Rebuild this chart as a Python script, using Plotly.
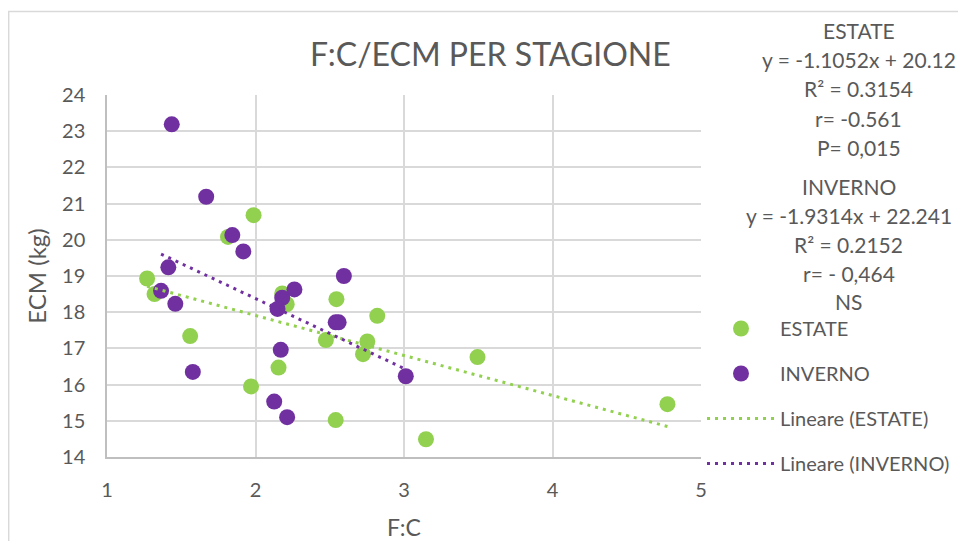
import plotly.graph_objects as go

# ---- data ----
estate_x = [1.27, 1.32, 1.56, 1.815, 1.987, 1.97, 2.155, 2.18, 2.21, 2.545, 2.82, 2.474, 2.753, 2.724, 2.54, 4.774, 3.148, 3.495]
estate_y = [18.93, 18.50, 17.34, 20.08, 20.68, 15.95, 16.47, 18.52, 18.22, 18.36, 17.90, 17.23, 17.19, 16.84, 15.02, 15.46, 14.49, 16.76]

inverno_x = [1.436, 1.668, 1.844, 1.918, 1.413, 1.364, 1.46, 1.578, 2.262, 2.18, 2.148, 2.17, 2.126, 2.213, 2.595, 2.54, 2.56, 3.012]
inverno_y = [23.19, 21.19, 20.13, 19.68, 19.24, 18.59, 18.23, 16.35, 18.63, 18.40, 18.09, 16.96, 15.53, 15.10, 19.00, 17.72, 17.72, 16.23]

# trendline coefficients as printed on the chart
estate_slope, estate_icpt = -1.1052, 20.12
inverno_slope, inverno_icpt = -1.9314, 22.241

estate_stats = ["ESTATE", "y = -1.1052x + 20.12", "R² = 0.3154", "r= -0.561", "P= 0,015"]
inverno_stats = ["INVERNO", "y = -1.9314x + 22.241", "R² = 0.2152", "r= - 0,464", "NS"]

x_ticks = [1, 2, 3, 4, 5]
y_ticks = [14, 15, 16, 17, 18, 19, 20, 21, 22, 23, 24]

GREEN = "#92D050"
PURPLE = "#7030A0"
TXT = "#595959"
FONT = "Lato"

def trend(xs, m, q):
    lo, hi = min(xs), max(xs)
    return [lo, hi], [m * lo + q, m * hi + q]

ex, ey = trend(estate_x, estate_slope, estate_icpt)
ix, iy = trend(inverno_x, inverno_slope, inverno_icpt)

fig = go.Figure()
fig.add_trace(go.Scatter(x=estate_x, y=estate_y, mode="markers", name="ESTATE",
                         legendgroup="a", marker=dict(color=GREEN, size=16)))
fig.add_trace(go.Scatter(x=inverno_x, y=inverno_y, mode="markers", name="INVERNO",
                         legendgroup="b", marker=dict(color=PURPLE, size=16)))
fig.add_trace(go.Scatter(x=ex, y=ey, mode="lines", name="Lineare (ESTATE)",
                         legendgroup="c", line=dict(color=GREEN, width=3, dash="3px,5px")))
fig.add_trace(go.Scatter(x=ix, y=iy, mode="lines", name="Lineare (INVERNO)",
                         legendgroup="d", line=dict(color=PURPLE, width=3, dash="3px,5px")))

# page body has an 8px margin: work in window pixels, convert to figure pixels
OFF = 8
W, H = 966 - OFF, 541 - OFF
L, R, T, B = 107 - OFF, 702 - OFF, 95 - OFF, 457 - OFF
pw, ph = R - L, B - T

def px(xp):
    return (xp - OFF - L) / pw

def py(yp):
    return (B - (yp - OFF)) / ph

annots = []
for txt, yy in zip(estate_stats, [30, 60, 89, 118, 147]):
    annots.append(dict(text=txt, x=px(860), y=py(yy), xref="paper", yref="paper",
                       showarrow=False, xanchor="center", yanchor="middle",
                       font=dict(family=FONT, size=21, color=TXT)))
for txt, yy in zip(inverno_stats, [186, 215, 244, 273, 301]):
    annots.append(dict(text=txt, x=px(850), y=py(yy), xref="paper", yref="paper",
                       showarrow=False, xanchor="center", yanchor="middle",
                       font=dict(family=FONT, size=21, color=TXT)))
# x-axis title placed as an annotation so it does not push the margins
annots.append(dict(text="F:C", x=0.5, y=py(527), xref="paper", yref="paper",
                   showarrow=False, xanchor="center", yanchor="middle",
                   font=dict(family=FONT, size=23, color=TXT)))

fig.update_layout(
    width=W, height=H,
    margin=dict(l=L, r=W - R, t=T, b=H - B),
    paper_bgcolor="white", plot_bgcolor="white",
    font=dict(family=FONT, size=20, color=TXT),
    title=dict(text="F:C/ECM PER STAGIONE", x=px(491), xanchor="center",
               xref="paper", y=1 - (55 - OFF) / H, yanchor="middle",
               font=dict(family=FONT, size=32, color=TXT)),
    xaxis=dict(range=[1, 5], tickvals=x_ticks, showgrid=True, gridcolor="#D9D9D9",
               gridwidth=1.5, showline=True, linecolor="#BFBFBF", linewidth=1.5,
               zeroline=False, ticks="", ticklabelstandoff=14, automargin=False),
    yaxis=dict(range=[14, 24], tickvals=y_ticks, showgrid=True, gridcolor="#D9D9D9",
               gridwidth=1.5, showline=True, linecolor="#BFBFBF", linewidth=1.5,
               zeroline=False, ticks="", ticklabelstandoff=16, automargin=False,
               title=dict(text="ECM (kg)", standoff=9, font=dict(size=24))),
    showlegend=True,
    legend=dict(x=px(702), y=py(309), xanchor="left", yanchor="top",
                itemwidth=68, tracegroupgap=16, font=dict(family=FONT, size=20, color=TXT),
                bgcolor="rgba(0,0,0,0)"),
    annotations=annots,
    shapes=[dict(type="rect", xref="paper", yref="paper",
                 x0=px(8.5), x1=px(1100), y0=py(700), y1=py(11.5),
                 line=dict(color="#D9D9D9", width=1.5), layer="below")],
)

fig.write_html("out.html")
